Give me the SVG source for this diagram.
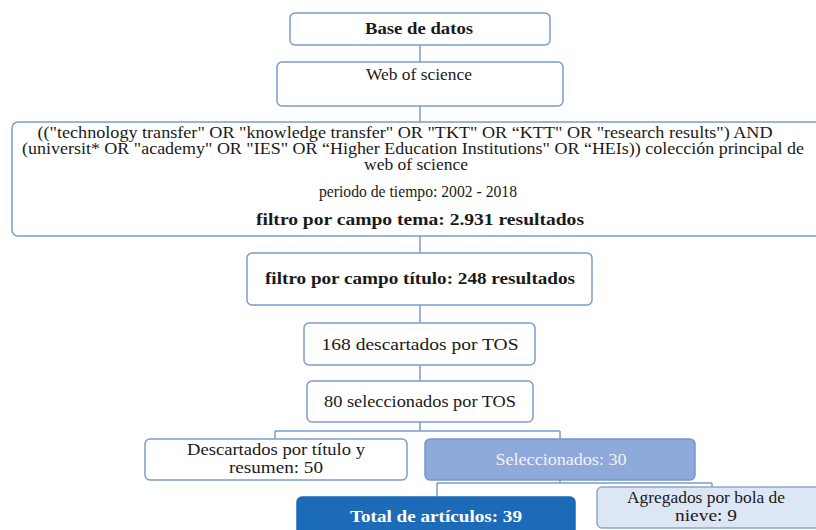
<svg xmlns="http://www.w3.org/2000/svg" width="816" height="530" viewBox="0 0 816 530">
<style>
.box{fill:#ffffff;stroke:#7b9ccb;stroke-width:1.5}
.sel{fill:#8eaadb;stroke:#7796cc;stroke-width:1.5}
.tot{fill:#1c6bb8;stroke:#1c6bb8;stroke-width:1.5}
.agr{fill:#dde6f4;stroke:#8ea5cc;stroke-width:1.5}
.t{font-family:"Liberation Serif","DejaVu Serif",serif;font-size:17px;fill:#1a1a1a;text-anchor:middle}
.s{font-size:16px}
.b{font-weight:bold}
.w{fill:#ffffff}
.lw{fill:#f2f2f2}
.c{fill:none;stroke:#7b9ccb;stroke-width:1.5}
</style>
<rect width="816" height="530" fill="#ffffff"/>
<g id="connectors">
<path class="c" d="M420 45V62M420 106V122M420 236V253M420 305V323M420 365V381M420 422V431M275 431H560M275 431V439M560 431V439M560 480V483M437 483H712M437 483V497M712 483V487"/>
</g>
<g id="n-base">
<rect class="box" x="290" y="13" width="260" height="32" rx="5"/>
<text class="t b" x="419" y="34" textLength="108" lengthAdjust="spacingAndGlyphs">Base de datos</text>
</g>
<g id="n-wos">
<rect class="box" x="277" y="62" width="286" height="44" rx="5"/>
<text class="t" x="419" y="80" textLength="106" lengthAdjust="spacingAndGlyphs">Web of science</text>
</g>
<g id="n-query">
<rect class="box" x="12" y="122" width="816" height="114" rx="6"/>
<text class="t s" x="405" y="138" textLength="735" lengthAdjust="spacingAndGlyphs">(("technology transfer" OR "knowledge transfer" OR "TKT" OR “KTT" OR "research results") AND</text>
<text class="t s" x="413" y="154" textLength="782" lengthAdjust="spacingAndGlyphs">(universit* OR "academy" OR "IES" OR “Higher Education Institutions" OR “HEIs)) colección principal de</text>
<text class="t s" x="416" y="170" textLength="104" lengthAdjust="spacingAndGlyphs">web of science</text>
<text class="t" x="418" y="197" textLength="198" lengthAdjust="spacingAndGlyphs">periodo de tiempo: 2002 - 2018</text>
<text class="t b" x="420" y="225" textLength="328" lengthAdjust="spacingAndGlyphs">filtro por campo tema: 2.931 resultados</text>
</g>
<g id="n-titulo">
<rect class="box" x="247" y="253" width="345" height="52" rx="5"/>
<text class="t b" x="420" y="284" textLength="310" lengthAdjust="spacingAndGlyphs">filtro por campo título: 248 resultados</text>
</g>
<g id="n-168">
<rect class="box" x="304" y="323" width="231" height="42" rx="5"/>
<text class="t" x="420" y="350" textLength="197" lengthAdjust="spacingAndGlyphs">168 descartados por TOS</text>
</g>
<g id="n-80">
<rect class="box" x="307" y="381" width="226" height="41" rx="5"/>
<text class="t" x="420" y="407" textLength="192" lengthAdjust="spacingAndGlyphs">80 seleccionados por TOS</text>
</g>
<g id="n-desc">
<rect class="box" x="145" y="439" width="262" height="41" rx="5"/>
<text class="t" x="276" y="455" textLength="178" lengthAdjust="spacingAndGlyphs">Descartados por título y</text>
<text class="t" x="276" y="473" textLength="94" lengthAdjust="spacingAndGlyphs">resumen: 50</text>
</g>
<g id="n-sel">
<rect class="sel" x="425" y="439" width="270" height="41" rx="5"/>
<text class="t lw" x="561" y="465" textLength="131" lengthAdjust="spacingAndGlyphs">Seleccionados: 30</text>
</g>
<g id="n-total">
<rect class="tot" x="297" y="497" width="278" height="45" rx="5"/>
<text class="t b w" x="436" y="522" textLength="172" lengthAdjust="spacingAndGlyphs">Total de artículos: 39</text>
</g>
<g id="n-agr">
<rect class="agr" x="597" y="487" width="230" height="41" rx="5"/>
<text class="t" x="706" y="503" textLength="158" lengthAdjust="spacingAndGlyphs">Agregados por bola de</text>
<text class="t" x="706" y="521" textLength="62" lengthAdjust="spacingAndGlyphs">nieve: 9</text>
</g>
</svg>
